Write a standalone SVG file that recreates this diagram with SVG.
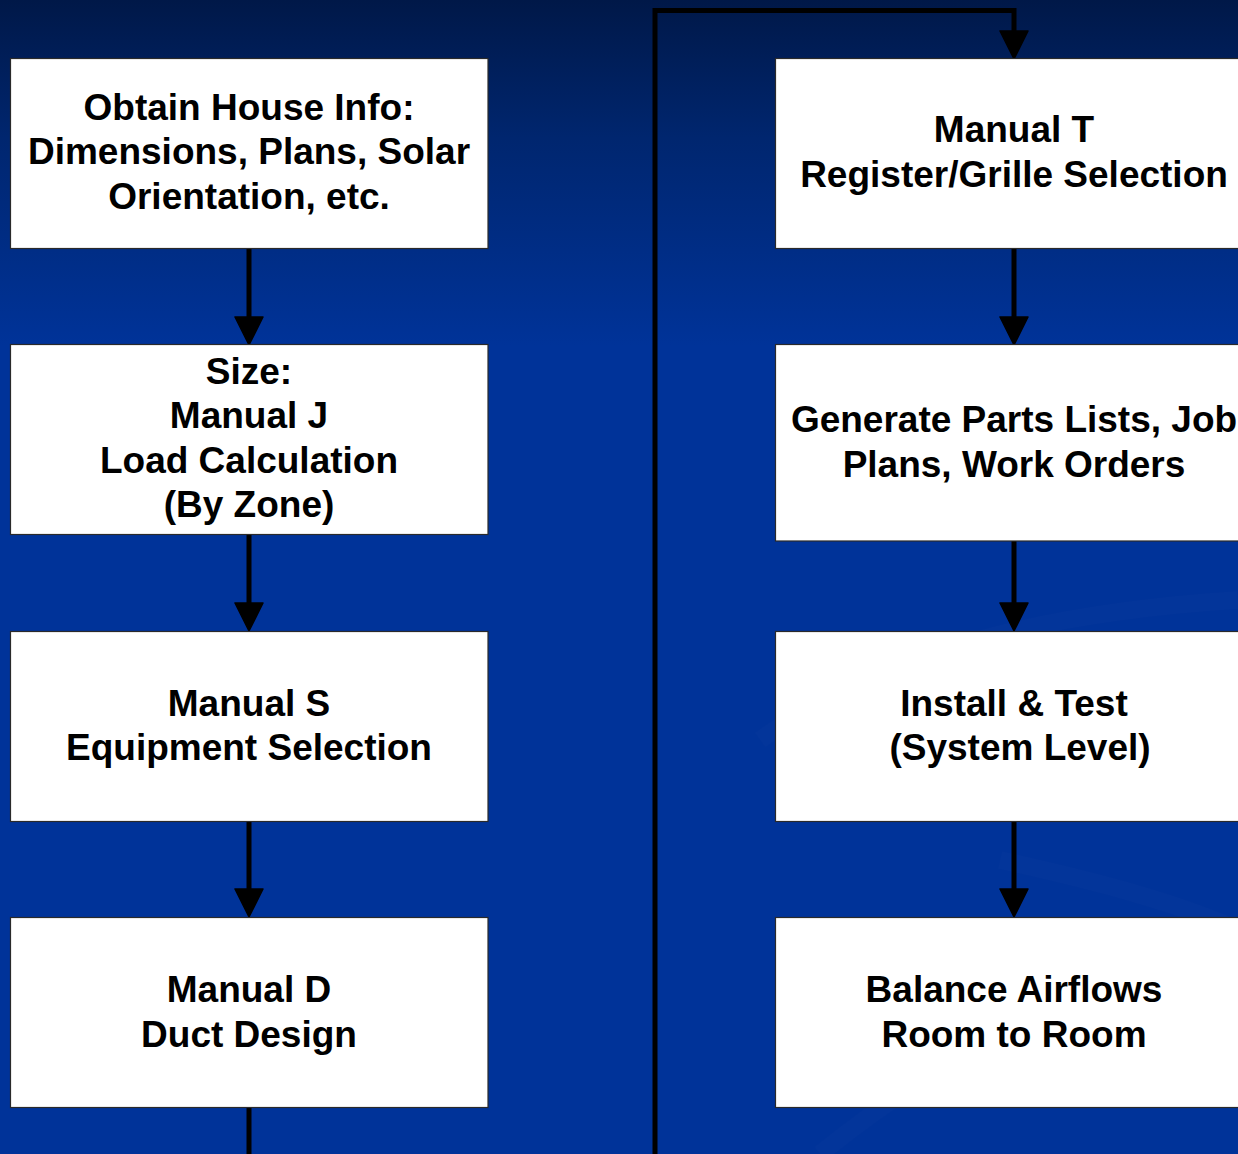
<svg xmlns="http://www.w3.org/2000/svg" width="1238" height="1154" viewBox="0 0 1238 1154">
  <style>
    .box { fill: #ffffff; stroke: #2a2a2a; stroke-width: 1.2; }
    .label { font-family: "Liberation Sans", Arial, sans-serif; font-weight: bold; font-size: 37px; fill: #000000; text-anchor: middle; }
    .wire { fill: none; stroke: #000000; stroke-width: 5; stroke-linejoin: miter; }
  </style>
  <defs>
    <linearGradient id="bg" x1="0" y1="0" x2="0" y2="1154" gradientUnits="userSpaceOnUse">
      <stop offset="0" stop-color="#001848"/>
      <stop offset="0.12" stop-color="#00266f"/>
      <stop offset="0.3" stop-color="#003399"/>
      <stop offset="1" stop-color="#003399"/>
    </linearGradient>
    <marker id="head" viewBox="0 0 30 30" refX="20" refY="15" markerWidth="30" markerHeight="30" markerUnits="userSpaceOnUse" orient="auto">
      <path d="M1,1 L29,15 L1,29 Z" fill="#000000" stroke="#000000" stroke-width="1.5" stroke-linejoin="round"/>
    </marker>
  </defs>

  <!-- backdrop with faint sweeping highlights -->
  <rect x="0" y="0" width="1238" height="1154" fill="url(#bg)"/>
  <g id="swooshes" fill="none" stroke="#ffffff" stroke-opacity="0.012" stroke-width="18">
    <path d="M760,740 C900,640 1080,610 1238,600"/>
    <path d="M820,1154 C960,1040 1100,980 1238,950"/>
    <path d="M1000,860 C1090,880 1170,900 1238,930"/>
  </g>

  <!-- connectors -->
  <g id="connectors">
    <line class="wire" x1="249" y1="248" x2="249" y2="336" marker-end="url(#head)"/>
    <line class="wire" x1="249" y1="535" x2="249" y2="622" marker-end="url(#head)"/>
    <line class="wire" x1="249" y1="822" x2="249" y2="908" marker-end="url(#head)"/>
    <line class="wire" x1="249" y1="1108" x2="249" y2="1160"/>
    <path class="wire" d="M655,1160 L655,10.5 L1014,10.5 L1014,50" marker-end="url(#head)"/>
    <line class="wire" x1="1014" y1="248" x2="1014" y2="336" marker-end="url(#head)"/>
    <line class="wire" x1="1014" y1="541" x2="1014" y2="622" marker-end="url(#head)"/>
    <line class="wire" x1="1014" y1="822" x2="1014" y2="908" marker-end="url(#head)"/>
  </g>

  <!-- left column -->
  <g id="house-info">
    <rect class="box" x="10.5" y="58.5" width="477.5" height="190"/>
    <text class="label" x="249" y="120">Obtain House Info:</text>
    <text class="label" x="249" y="164">Dimensions, Plans, Solar</text>
    <text class="label" x="249" y="209">Orientation, etc.</text>
  </g>
  <g id="manual-j">
    <rect class="box" x="10.5" y="344.5" width="477.5" height="190"/>
    <text class="label" x="249" y="384">Size:</text>
    <text class="label" x="249" y="428">Manual J</text>
    <text class="label" x="249" y="473">Load Calculation</text>
    <text class="label" x="249" y="517">(By Zone)</text>
  </g>
  <g id="manual-s">
    <rect class="box" x="10.5" y="631.5" width="477.5" height="190"/>
    <text class="label" x="249" y="716">Manual S</text>
    <text class="label" x="249" y="760">Equipment Selection</text>
  </g>
  <g id="manual-d">
    <rect class="box" x="10.5" y="917.5" width="477.5" height="190"/>
    <text class="label" x="249" y="1002">Manual D</text>
    <text class="label" x="249" y="1047">Duct Design</text>
  </g>

  <!-- right column -->
  <g id="manual-t">
    <rect class="box" x="775.5" y="58.5" width="480" height="190"/>
    <text class="label" x="1014" y="142">Manual T</text>
    <text class="label" x="1014" y="187">Register/Grille Selection</text>
  </g>
  <g id="parts-lists">
    <rect class="box" x="775.5" y="344.5" width="480" height="196.5"/>
    <text class="label" x="1014" y="432">Generate Parts Lists, Job</text>
    <text class="label" x="1014" y="477">Plans, Work Orders</text>
  </g>
  <g id="install-test">
    <rect class="box" x="775.5" y="631.5" width="480" height="190"/>
    <text class="label" x="1014" y="716">Install &amp; Test</text>
    <text class="label" x="1020" y="760">(System Level)</text>
  </g>
  <g id="balance-airflows">
    <rect class="box" x="775.5" y="917.5" width="480" height="190"/>
    <text class="label" x="1014" y="1002">Balance Airflows</text>
    <text class="label" x="1014" y="1047">Room to Room</text>
  </g>
</svg>
